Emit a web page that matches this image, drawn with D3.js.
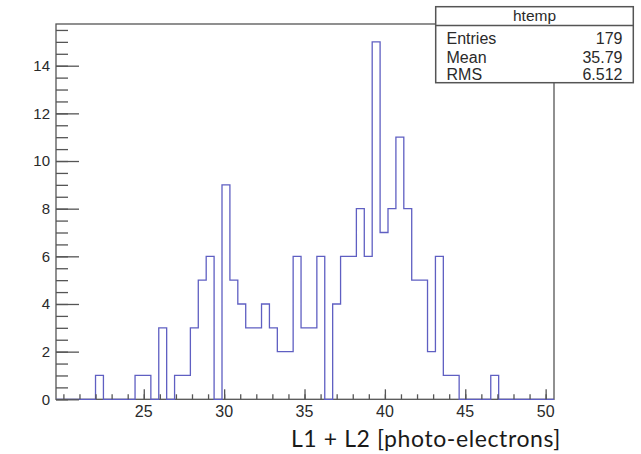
<!DOCTYPE html>
<html>
<head>
<meta charset="utf-8">
<script src="https://cdn.jsdelivr.net/npm/d3@7"></script>
<style>
  html, body { margin: 0; padding: 0; background: #fff; }
  svg { display: block; }
  text { font-family: "Liberation Sans", Arial, Helvetica, sans-serif; }
  text.axis-title { font-family: Lato, "Open Sans", sans-serif; letter-spacing: 0.6px; }
</style>
</head>
<body>
<svg id="chart" width="641" height="454"></svg>
<script>
// Histogram binning (fixed-width bins over the axis range)
const xLow = 19.54;
const xHigh = 50.52;
const nBins = 63;

// Counts per bin, low edge to high edge
const counts = [
  0, 0, 0, 0, 0,
  1, 0, 0, 0, 0, 1, 1, 0, 3, 0,
  1, 1, 3, 5, 6, 0, 9, 5, 4, 3,
  3, 4, 3, 2, 2, 6, 3, 3, 6, 0,
  4, 6, 6, 8, 6, 15, 7, 8, 11, 8,
  5, 5, 2, 6, 1, 1, 0, 0, 0, 0,
  1,
  0, 0, 0, 0, 0, 0, 0
];

// Axis ticks and labels
const xMajorTicks = [25, 30, 35, 40, 45, 50];
const xMinorTicks = d3.range(20, 51, 1);
const yMajorTicks = [0, 2, 4, 6, 8, 10, 12, 14];
const yMinorTicks = d3.range(0, 15.76, 0.5);
const yMax = 15.75;

// Statistics box
const statsTitle = "htemp";
const statsLabels = ["Entries", "Mean", "RMS"];
const statsValues = ["179", "35.79", "6.512"];

const xTitle = "L1 + L2 [photo-electrons]";

const svg = d3.select("#chart");
const frame = { left: 56, right: 554, top: 24, bottom: 399.3 };

const x = d3.scaleLinear().domain([xLow, xHigh]).range([frame.left, frame.right]);
const y = d3.scaleLinear().domain([0, yMax]).range([frame.bottom, frame.top]);

const binWidth = (xHigh - xLow) / nBins;
const axisColor = "#555";
const labelColor = "#2a2a2a";

// Frame
svg.append("rect")
  .attr("x", frame.left).attr("y", frame.top)
  .attr("width", frame.right - frame.left).attr("height", frame.bottom - frame.top)
  .attr("fill", "none").attr("stroke", axisColor).attr("stroke-width", 1.3);

// Histogram outline as a staircase
const pts = [[xLow, 0]];
counts.forEach((c, i) => {
  const lo = xLow + i * binWidth;
  pts.push([lo, c], [lo + binWidth, c]);
});
pts.push([xHigh, 0]);
const line = d3.line().x(d => x(d[0])).y(d => y(d[1]));
svg.append("path")
  .attr("d", line(pts))
  .attr("fill", "none")
  .attr("stroke", "#5f5fc2")
  .attr("stroke-width", 1.3);

// Y axis ticks (pointing into the frame)
const yAxisMinor = d3.axisRight(y).tickValues(yMinorTicks).tickSize(12).tickFormat("");
const yAxisMajor = d3.axisRight(y).tickValues(yMajorTicks).tickSize(23).tickFormat("");
[yAxisMinor, yAxisMajor].forEach(ax => {
  const g = svg.append("g").attr("transform", `translate(${frame.left},0)`).call(ax);
  g.select(".domain").remove();
  g.selectAll("line").attr("stroke", axisColor).attr("stroke-width", 1.3);
});
svg.append("g").selectAll("text").data(yMajorTicks).join("text")
  .attr("x", 50).attr("y", d => y(d)).attr("dy", "0.36em")
  .attr("text-anchor", "end").attr("font-size", 15).attr("fill", labelColor)
  .text(d => d);

// X axis ticks (pointing up into the frame)
const xAxisMinor = d3.axisTop(x).tickValues(xMinorTicks).tickSize(5).tickFormat("");
const xAxisMajor = d3.axisTop(x).tickValues(xMajorTicks).tickSize(10).tickFormat("");
[xAxisMinor, xAxisMajor].forEach(ax => {
  const g = svg.append("g").attr("transform", `translate(0,${frame.bottom})`).call(ax);
  g.select(".domain").remove();
  g.selectAll("line").attr("stroke", axisColor).attr("stroke-width", 1.3);
});
svg.append("g").selectAll("text").data(xMajorTicks).join("text")
  .attr("x", d => x(d)).attr("y", 417)
  .attr("text-anchor", "middle").attr("font-size", 16).attr("fill", labelColor)
  .text(d => d);

// Axis title
svg.append("text")
  .attr("class", "axis-title")
  .attr("x", 561).attr("y", 446.5)
  .attr("text-anchor", "end")
  .attr("font-size", 23).attr("fill", "#1a1a1a")
  .text(xTitle);

// Statistics box
const box = { x: 435.7, y: 6.7, w: 197.6, h: 76, header: 25.5 };
svg.append("rect")
  .attr("x", box.x).attr("y", box.y).attr("width", box.w).attr("height", box.h)
  .attr("fill", "#fff").attr("stroke", axisColor).attr("stroke-width", 1.5);
svg.append("line")
  .attr("x1", box.x).attr("x2", box.x + box.w)
  .attr("y1", box.header).attr("y2", box.header)
  .attr("stroke", axisColor).attr("stroke-width", 1.3);
svg.append("text")
  .attr("x", box.x + box.w / 2).attr("y", 21)
  .attr("text-anchor", "middle").attr("font-size", 15.5).attr("fill", labelColor)
  .text(statsTitle);
const rowBase = [43.5, 62.5, 80];
svg.append("g").selectAll("text").data(statsLabels).join("text")
  .attr("x", 446.5).attr("y", (d, i) => rowBase[i])
  .attr("font-size", 16).attr("fill", labelColor).text(d => d);
svg.append("g").selectAll("text").data(statsValues).join("text")
  .attr("x", 622.5).attr("y", (d, i) => rowBase[i])
  .attr("text-anchor", "end").attr("font-size", 16).attr("fill", labelColor).text(d => d);
</script>
</body>
</html>
